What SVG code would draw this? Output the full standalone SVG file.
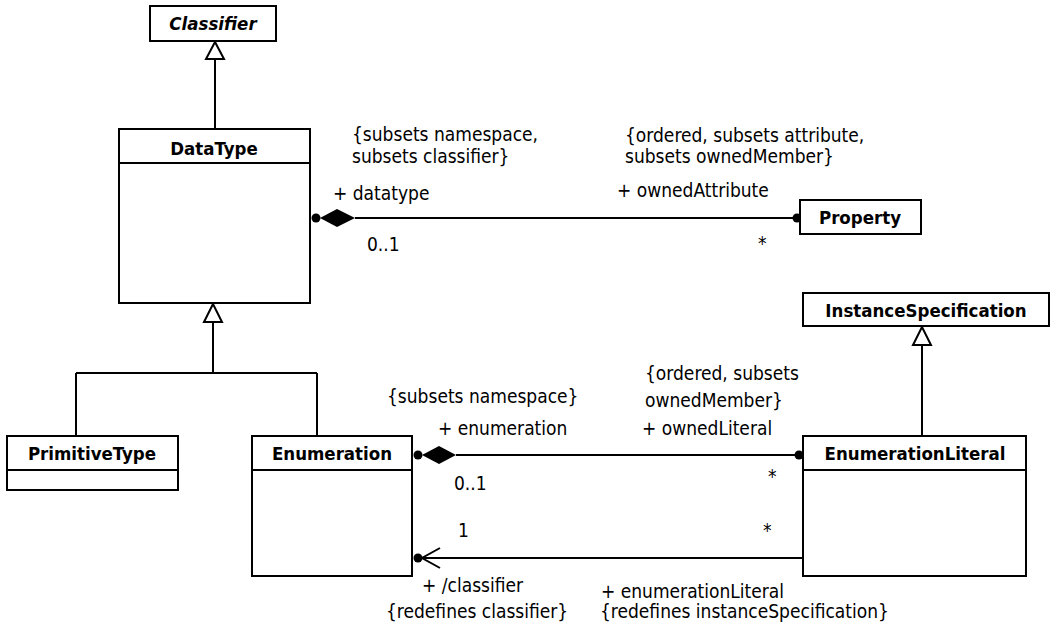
<svg xmlns="http://www.w3.org/2000/svg" width="1055" height="635" viewBox="0 0 1055 635">
<style>
.box{fill:#fff;stroke:#000;stroke-width:2}
.ln{fill:none;stroke:#000;stroke-width:2}
.t{font-family:"DejaVu Sans Condensed","DejaVu Sans",sans-serif;font-size:19px;fill:#000}
.b{font-family:"DejaVu Sans Condensed","DejaVu Sans",sans-serif;font-size:18.5px;font-weight:bold;fill:#000;text-anchor:middle}
.tri{fill:#fff;stroke:#000;stroke-width:2}
</style>
<rect width="1055" height="635" fill="#fff"/>
<g id="connectors">
  <path class="ln" d="M215,59 V129"/>
  <path class="tri" d="M215,42 L206,59 L224,59 Z"/>
  <path class="ln" d="M213,322 V373 M76,373 H317 M76,373 V436 M317,373 V436"/>
  <path class="tri" d="M213,304 L204,322 L222,322 Z"/>
  <path class="ln" d="M922,345 V436"/>
  <path class="tri" d="M922,327 L913,345 L931,345 Z"/>
  <path class="ln" d="M355,218 H796"/>
  <circle cx="316" cy="218" r="4.5"/>
  <path d="M320,218 L337,209 L355,218 L337,227 Z"/>
  <circle cx="797" cy="218" r="4.5"/>
  <path class="ln" d="M456,455 H799"/>
  <circle cx="418" cy="455" r="4.5"/>
  <path d="M422,455 L439,446 L456,455 L439,464 Z"/>
  <circle cx="799" cy="455" r="4.5"/>
  <path class="ln" d="M803,558 H422"/>
  <circle cx="418" cy="558" r="4.5"/>
  <path class="ln" d="M440,548 L422,558 L440,568"/>
</g>
<g id="labels">
  <text class="t" x="352" y="141">{subsets namespace,</text>
  <text class="t" x="352" y="163">subsets classifier}</text>
  <text class="t" x="333" y="200">+ datatype</text>
  <text class="t" x="367" y="251">0..1</text>
  <text class="t" x="625" y="142">{ordered, subsets attribute,</text>
  <text class="t" x="625" y="163">subsets ownedMember}</text>
  <text class="t" x="617" y="197">+ ownedAttribute</text>
  <text class="t" x="758" y="250">*</text>
  <text class="t" x="387" y="403">{subsets namespace}</text>
  <text class="t" x="438" y="435">+ enumeration</text>
  <text class="t" x="454" y="490">0..1</text>
  <text class="t" x="645" y="380">{ordered, subsets</text>
  <text class="t" x="645" y="407">ownedMember}</text>
  <text class="t" x="642" y="435">+ ownedLiteral</text>
  <text class="t" x="768" y="483">*</text>
  <text class="t" x="458" y="537">1</text>
  <text class="t" x="763" y="537">*</text>
  <text class="t" x="422" y="592">+ /classifier</text>
  <text class="t" x="386" y="618">{redefines classifier}</text>
  <text class="t" x="601" y="598">+ enumerationLiteral</text>
  <text class="t" x="600" y="618">{redefines instanceSpecification}</text>
</g>
<g id="Classifier">
  <rect class="box" x="150" y="6" width="126" height="35"/>
  <text class="b" x="213" y="30" font-style="italic">Classifier</text>
</g>
<g id="DataType">
  <rect class="box" x="119" y="129" width="191" height="174"/>
  <path class="ln" d="M119,163 H310"/>
  <text class="b" x="214" y="155">DataType</text>
</g>
<g id="Property">
  <rect class="box" x="800" y="200" width="121" height="34"/>
  <text class="b" x="860" y="224">Property</text>
</g>
<g id="PrimitiveType">
  <rect class="box" x="7" y="436" width="171" height="54"/>
  <path class="ln" d="M7,470 H178"/>
  <text class="b" x="92" y="460">PrimitiveType</text>
</g>
<g id="Enumeration">
  <rect class="box" x="252" y="436" width="160" height="140"/>
  <path class="ln" d="M252,470 H412"/>
  <text class="b" x="332" y="460">Enumeration</text>
</g>
<g id="InstanceSpecification">
  <rect class="box" x="803" y="293" width="246" height="33"/>
  <text class="b" x="926" y="317">InstanceSpecification</text>
</g>
<g id="EnumerationLiteral">
  <rect class="box" x="803" y="436" width="223" height="140"/>
  <path class="ln" d="M803,470 H1026"/>
  <text class="b" x="915" y="460">EnumerationLiteral</text>
</g>
</svg>
